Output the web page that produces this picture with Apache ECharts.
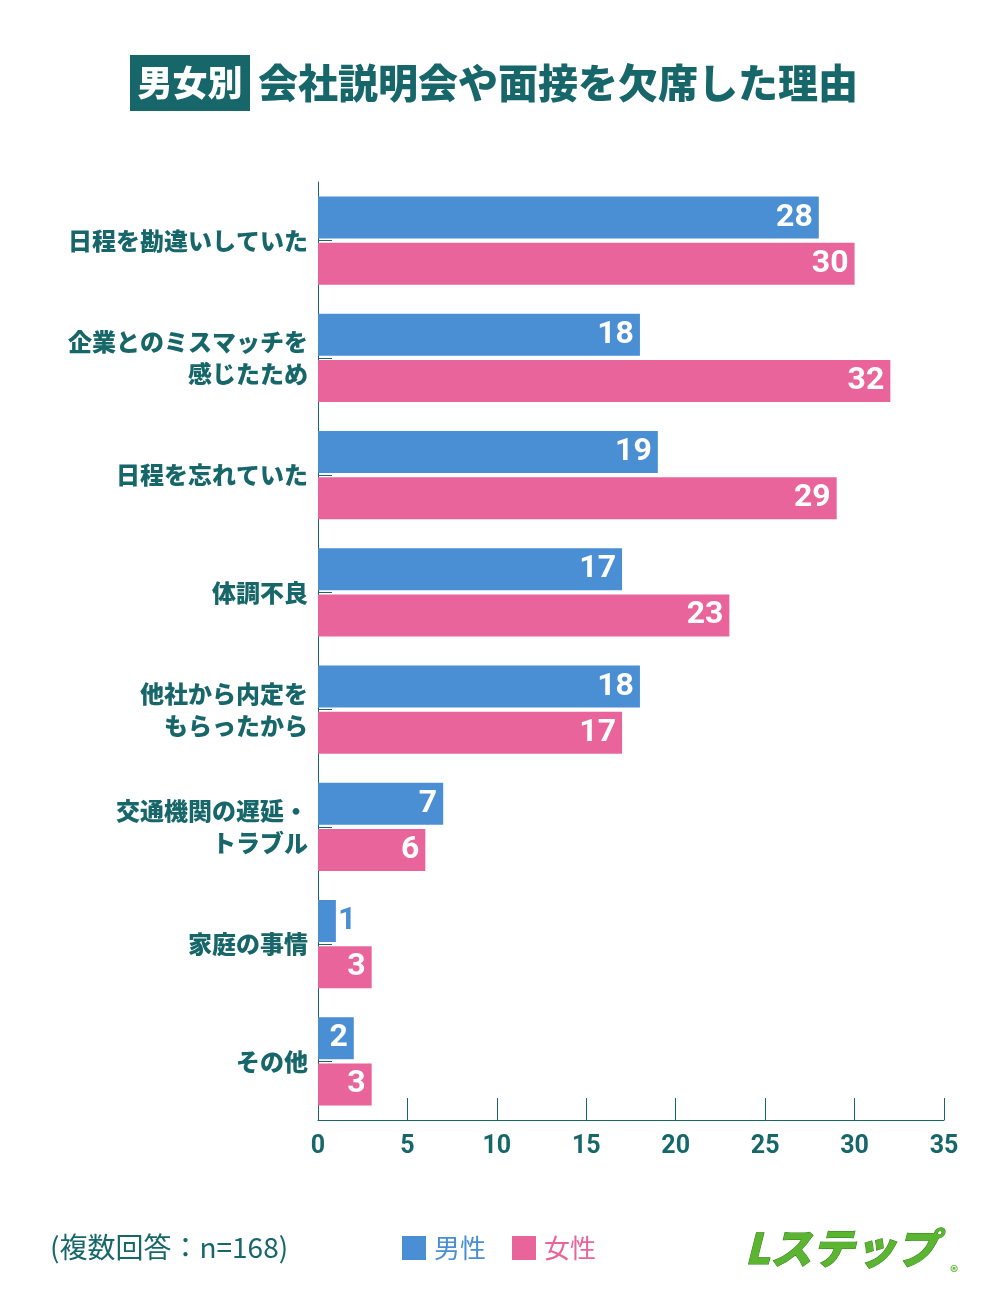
<!DOCTYPE html>
<html><head><meta charset="utf-8">
<script src="https://cdn.jsdelivr.net/npm/echarts@6/dist/echarts.min.js"></script>
<style>body{margin:0}#c{width:1000px;height:1315px}</style></head>
<body><div id="c"></div>
<script>
const categories=["日程を勘違いしていた","企業とのミスマッチを\n感じたため","日程を忘れていた","体調不良","他社から内定を\nもらったから","交通機関の遅延・\nトラブル","家庭の事情","その他"];
const male=[28,18,19,17,18,7,1,2];
const female=[30,32,29,23,17,6,3,3];
const xTicks=[0,5,10,15,20,25,30,35];
const teal='#17666a', blue='#4a8fd4', pink='#e8649a';
const F='"Noto Sans CJK JP", sans-serif';
const lbl={show:true,position:'insideRight',color:'#fff',fontSize:32,fontWeight:'bold',fontFamily:'Roboto',distance:6};
const maleData=male.map(v=>v<2?{value:v,label:{position:'right',color:blue,distance:2}}:v);
const chart=echarts.init(document.getElementById('c'));
chart.setOption({
  animation:false,
  grid:{left:318,right:56,top:182,bottom:195},
  xAxis:{type:'value',min:0,max:35,interval:5,
    axisLine:{show:true,lineStyle:{color:teal,width:1}},
    axisTick:{show:true,inside:true,length:22,lineStyle:{color:teal}},
    splitLine:{show:false},
    axisLabel:{color:teal,fontSize:25,fontWeight:'bold',fontFamily:'Roboto',margin:14,
      formatter:v=>xTicks.includes(v)?String(v):''}},
  yAxis:{type:'category',data:categories,inverse:true,
    axisLine:{lineStyle:{color:teal,width:1}},
    axisTick:{show:true,inside:true,alignWithLabel:true,length:14,lineStyle:{color:teal}},
    axisLabel:{color:teal,fontSize:24,fontWeight:900,fontFamily:F,lineHeight:32,margin:10}},
  series:[
    {name:'男性',type:'bar',data:maleData,barWidth:42,barGap:'10%',itemStyle:{color:blue},label:lbl},
    {name:'女性',type:'bar',data:female,barWidth:42,itemStyle:{color:pink},label:lbl}
  ],
  graphic:[
    {type:'rect',shape:{x:130,y:55,width:120,height:56},style:{fill:teal}},
    {type:'text',x:190,y:83,style:{text:'男女別',fill:'#fff',font:'900 35px '+F,align:'center',verticalAlign:'middle'}},
    {type:'text',x:258,y:83,style:{text:'会社説明会や面接を欠席した理由',fill:teal,font:'900 40px '+F,verticalAlign:'middle'}},
    {type:'text',x:50,y:1247,style:{text:'(複数回答：n=168)',fill:teal,font:'28px '+F,verticalAlign:'middle'}},
    {type:'rect',shape:{x:402,y:1236,width:24,height:24},style:{fill:blue}},
    {type:'text',x:434,y:1248,style:{text:'男性',fill:blue,font:'26px '+F,verticalAlign:'middle'}},
    {type:'rect',shape:{x:512,y:1236,width:24,height:24},style:{fill:pink}},
    {type:'text',x:544,y:1248,style:{text:'女性',fill:pink,font:'26px '+F,verticalAlign:'middle'}},
    {type:'text',x:745,y:1248,style:{text:'Lステップ',fill:'#5cb531',stroke:'#2f7d1c',lineWidth:1,font:'italic 900 42px '+F,verticalAlign:'middle'}},
    {type:'text',x:950,y:1272,style:{text:'®',fill:'#5cb531',font:'bold 16px '+F,verticalAlign:'middle'}}
  ]
});
</script></body></html>
